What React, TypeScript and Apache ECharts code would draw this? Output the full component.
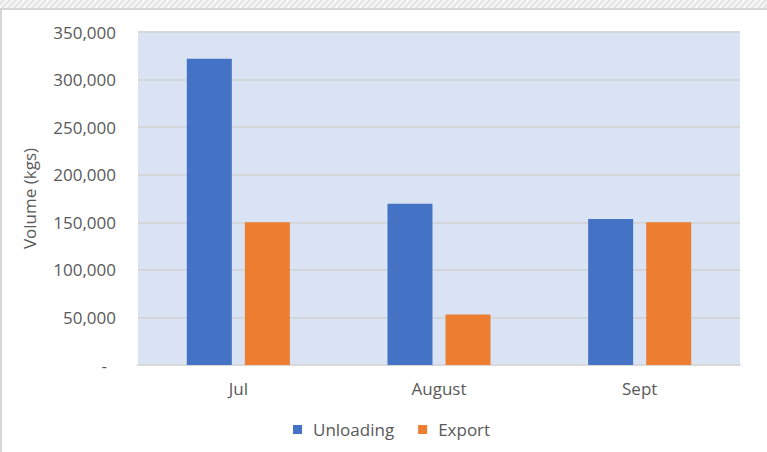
import React, { useEffect, useRef } from "react";
import * as echarts from "echarts";

const categories = ["Jul", "August", "Sept"];
const unloading = [322000, 169500, 153500];
const exportVals = [150000, 53000, 150000];
const yTicks = [0, 50000, 100000, 150000, 200000, 250000, 300000, 350000];

const FONT = "'Open Sans', sans-serif";
const TXT = "#595959";

export default function App() {
  const ref = useRef<HTMLDivElement>(null);
  useEffect(() => {
    if (!ref.current) return;
    const chart = echarts.init(ref.current, null, { renderer: "svg" });
    const hatch: any[] = [];
    for (let x = -10; x < 780; x += 6) {
      hatch.push({
        type: "line",
        shape: { x1: x, y1: 8, x2: x + 8, y2: 0 },
        style: { stroke: "#E4E4E4", lineWidth: 2 },
        silent: true,
      });
    }
    chart.setOption({
      animation: false,
      backgroundColor: "#ffffff",
      graphic: [
        { type: "rect", shape: { x: 0, y: 0, width: 767, height: 8 }, style: { fill: "#F6F6F6" }, silent: true },
        ...hatch,
        {
          type: "rect",
          shape: { x: 1, y: 9, width: 800, height: 500 },
          style: { fill: "none", stroke: "#D6D6D6", lineWidth: 2 },
          silent: true,
        },
      ],
      grid: { left: 138, right: 27, top: 32, bottom: 87, show: true, backgroundColor: "#DAE3F3", borderWidth: 0 },
      legend: {
        data: ["Unloading", "Export"],
        left: 288,
        top: 416,
        icon: "rect",
        itemWidth: 9,
        itemHeight: 9,
        itemGap: 24,
        textStyle: { color: TXT, fontFamily: FONT, fontSize: 17, padding: [0, 0, 0, 6] },
      },
      xAxis: {
        type: "category",
        data: categories,
        axisLine: { show: true, lineStyle: { color: "#D9D9D9", width: 2 } },
        axisTick: { show: false },
        axisLabel: { color: TXT, fontFamily: FONT, fontSize: 17, margin: 15 },
      },
      yAxis: {
        type: "value",
        min: 0,
        max: 350000,
        interval: 50000,
        name: "Volume (kgs)",
        nameLocation: "middle",
        nameGap: 100,
        nameTextStyle: { color: TXT, fontFamily: FONT, fontSize: 17 },
        axisLine: { show: false },
        axisTick: { show: false },
        splitLine: { lineStyle: { color: "#D3D6DB", width: 2 } },
        axisLabel: {
          color: TXT,
          fontFamily: FONT,
          fontSize: 17,
          margin: 22,
          formatter: (v: number) =>
            v === 0 ? "{d|-}" : yTicks.includes(v) ? v.toLocaleString("en-US") : "",
          rich: { d: { color: TXT, fontFamily: FONT, fontSize: 17, padding: [0, 9, 0, 0] } },
        },
      },
      series: [
        {
          name: "Unloading",
          type: "bar",
          data: unloading,
          barWidth: 45,
          barGap: "29%",
          itemStyle: { color: "#4472C4" },
        },
        {
          name: "Export",
          type: "bar",
          data: exportVals,
          barWidth: 45,
          itemStyle: { color: "#ED7D31" },
        },
      ],
    });
    return () => chart.dispose();
  }, []);
  return (
    <div
      ref={ref}
      style={{ position: "fixed", left: 0, top: 0, width: 767, height: 452 }}
    />
  );
}
